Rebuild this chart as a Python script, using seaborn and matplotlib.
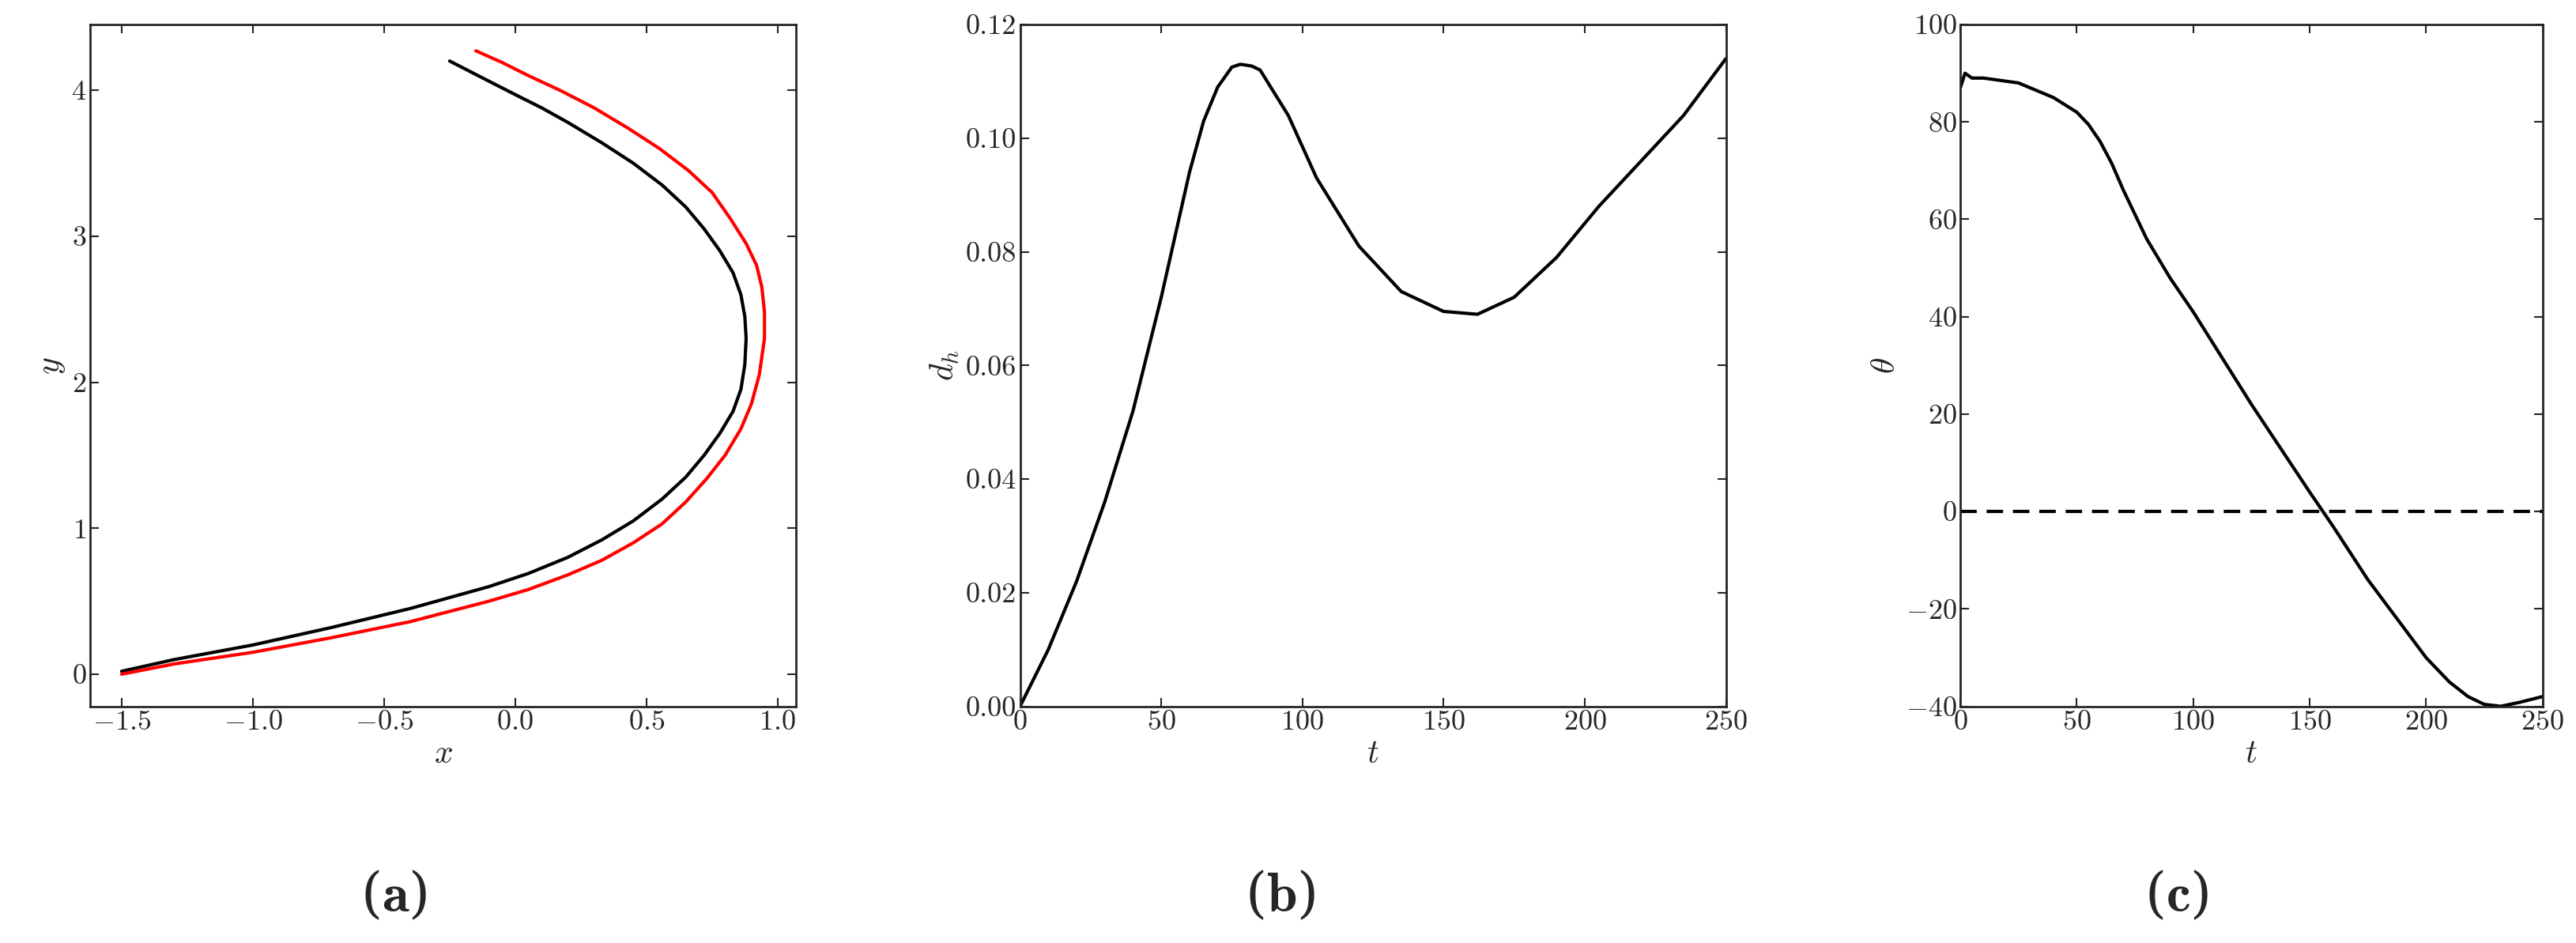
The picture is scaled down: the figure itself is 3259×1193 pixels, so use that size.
import numpy as np
import pandas as pd
import seaborn as sns
from matplotlib import pyplot as plt

sns.set_theme(style="ticks")
plt.rcParams["font.family"] = ["cmr10", "DejaVu Serif"]
plt.rcParams["mathtext.fontset"] = "cm"
plt.rcParams["axes.unicode_minus"] = False
plt.rcParams["axes.formatter.use_mathtext"] = True

# (a) trajectories
traj_black_x = [-1.5, -1.3, -1.0, -0.7, -0.4, -0.1, 0.05, 0.2, 0.33, 0.45, 0.56, 0.65,
                0.72, 0.78, 0.83, 0.86, 0.875, 0.88, 0.875, 0.86, 0.83, 0.78, 0.72,
                0.65, 0.56, 0.45, 0.33, 0.2, 0.1, 0.0, -0.12, -0.25]
traj_black_y = [0.02, 0.1, 0.2, 0.32, 0.45, 0.6, 0.69, 0.8, 0.92, 1.05, 1.2, 1.35,
                1.5, 1.65, 1.8, 1.95, 2.12, 2.3, 2.45, 2.6, 2.75, 2.9, 3.05,
                3.2, 3.35, 3.5, 3.64, 3.78, 3.88, 3.97, 4.08, 4.2]
traj_red_x = [-1.5, -1.3, -1.0, -0.7, -0.4, -0.1, 0.05, 0.2, 0.33, 0.45, 0.56, 0.65,
              0.73, 0.8, 0.86, 0.9, 0.93, 0.95, 0.95, 0.94, 0.92, 0.88, 0.82,
              0.75, 0.66, 0.55, 0.43, 0.3, 0.17, 0.05, -0.05, -0.15]
traj_red_y = [0.0, 0.07, 0.15, 0.25, 0.36, 0.5, 0.58, 0.68, 0.78, 0.9, 1.03, 1.18,
              1.34, 1.5, 1.68, 1.85, 2.05, 2.3, 2.48, 2.65, 2.8, 2.95, 3.12,
              3.3, 3.45, 3.6, 3.74, 3.88, 4.0, 4.1, 4.19, 4.27]

# (b) d_h over t
dh_t = [0, 10, 20, 30, 40, 50, 55, 60, 65, 70, 75, 78, 82, 85, 90, 95, 105, 120,
        135, 150, 162, 175, 190, 205, 220, 235, 250]
dh = [0.0, 0.01, 0.022, 0.036, 0.052, 0.072, 0.083, 0.094, 0.103, 0.109, 0.1125,
      0.113, 0.1127, 0.112, 0.108, 0.104, 0.093, 0.081, 0.073, 0.0695, 0.069,
      0.072, 0.079, 0.088, 0.096, 0.104, 0.114]

# (c) theta over t
theta_t = [0, 2, 5, 10, 25, 40, 50, 55, 60, 65, 70, 80, 90, 100, 125, 150, 160,
           175, 200, 210, 218, 225, 232, 240, 250]
theta = [87, 90, 89, 89, 88, 85, 82, 79.5, 76, 71.5, 66, 56, 48, 41, 22, 4, -3,
         -14, -30, -35, -38, -39.6, -40, -39.2, -38]

lw = 3.0
fig = plt.figure(figsize=(32.59, 11.93), dpi=100)
ax_a = fig.add_axes([0.035, 0.251, 0.274, 0.723])
ax_b = fig.add_axes([0.396, 0.251, 0.274, 0.723])
ax_c = fig.add_axes([0.761, 0.251, 0.226, 0.723])

sns.lineplot(x=traj_black_x, y=traj_black_y, sort=False, estimator=None,
             color="black", lw=lw, ax=ax_a)
sns.lineplot(x=traj_red_x, y=traj_red_y, sort=False, estimator=None,
             color="red", lw=lw, ax=ax_a)
ax_a.set_xlim(-1.62, 1.07)
ax_a.set_ylim(-0.22, 4.45)
ax_a.set_xticks([-1.5, -1.0, -0.5, 0.0, 0.5, 1.0])
ax_a.set_yticks([0, 1, 2, 3, 4])
ax_a.set_xlabel("$x$")
ax_a.set_ylabel("$y$")

sns.lineplot(x=dh_t, y=dh, estimator=None, color="black", lw=lw, ax=ax_b)
ax_b.set_xlim(0, 250)
ax_b.set_ylim(0, 0.12)
ax_b.set_xticks([0, 50, 100, 150, 200, 250])
ax_b.set_yticks(np.arange(0, 0.121, 0.02))
ax_b.set_yticklabels([f"{v:.2f}" for v in np.arange(0, 0.121, 0.02)])
ax_b.set_xlabel("$t$")
ax_b.set_ylabel("$d_h$")

sns.lineplot(x=theta_t, y=theta, estimator=None, color="black", lw=lw, ax=ax_c)
ax_c.axhline(0, color="black", lw=lw, ls="--", dashes=(5, 3))
ax_c.set_xlim(0, 250)
ax_c.set_ylim(-40, 100)
ax_c.set_xticks([0, 50, 100, 150, 200, 250])
ax_c.set_yticks(range(-40, 101, 20))
ax_c.set_xlabel("$t$")
ax_c.set_ylabel(r"$\theta$")

for ax in (ax_a, ax_b, ax_c):
    ax.tick_params(direction="in", top=True, right=True, labelsize=26,
                   length=8, width=1.5)
    ax.xaxis.label.set_size(30)
    ax.yaxis.label.set_size(30)
    for s in ax.spines.values():
        s.set_linewidth(2)

for label, xc in (("a", 0.153), ("b", 0.497), ("c", 0.845)):
    fig.text(xc, 0.05, f"($\\mathbf{{{label}}}$)", ha="center", va="center",
             fontsize=50, family=["DejaVu Serif"])

fig.savefig("out.png", dpi=100)
